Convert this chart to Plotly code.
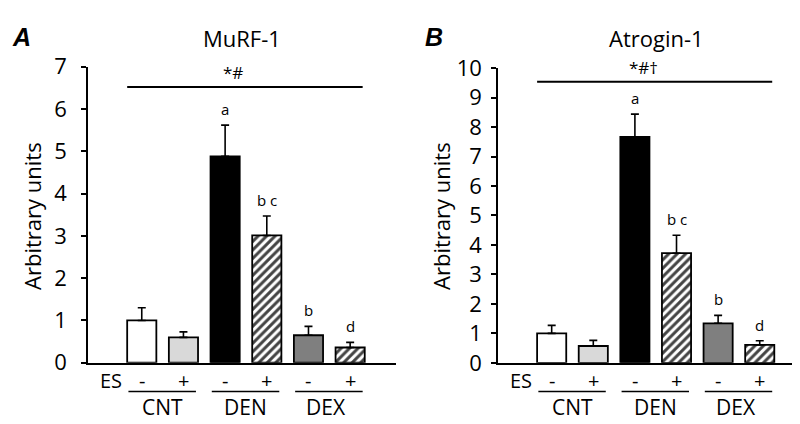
import plotly.graph_objects as go

# ---------------- data ----------------
groups = ["CNT", "DEN", "DEX"]
es_signs = ["-", "+", "-", "+", "-", "+"]
bar_positions = [0, 1, 2, 3, 4, 5]

murf_values = [1.00, 0.60, 4.88, 3.01, 0.65, 0.36]
murf_errors = [0.30, 0.13, 0.74, 0.46, 0.21, 0.12]
murf_letters = ["", "", "a", "b c", "b", "d"]
murf_sig = "*#"
murf_sig_level = 6.52

atro_values = [1.00, 0.57, 7.67, 3.72, 1.34, 0.61]
atro_errors = [0.27, 0.19, 0.77, 0.61, 0.27, 0.14]
atro_letters = ["", "", "a", "b c", "b", "d"]
atro_sig = "*#†"
atro_sig_level = 9.54

# ---------------- styles ----------------
FONT = "Open Sans, sans-serif"
fills = ["white", "#d9d9d9", "black", "white", "#7f7f7f", "white"]
patterns = ["", "", "", "/", "", "/"]
pat_fg = ["black", "black", "black", "black", "black", "#a0a0a0"]

W, H = 800, 424
def py(p):  # pixel y -> paper
    return 1 - p / H

fig = go.Figure()

panels = [
    dict(vals=murf_values, errs=murf_errors, letters=murf_letters, sig=murf_sig,
         sig_level=murf_sig_level, xa="x", ya="y", xdom=[80 / W, 388 / W],
         ydom=[py(364.5), py(46)], yrange=[0, 7], title="MuRF-1", title_x=234,
         label="A", xrange=[-1.29, 6.1], ytitle_x=24, label_x=13),
    dict(vals=atro_values, errs=atro_errors, letters=atro_letters, sig=atro_sig,
         sig_level=atro_sig_level, xa="x2", ya="y2", xdom=[490 / W, 1.0],
         ydom=[py(364.6), py(47.5)], yrange=[0, 10], title="Atrogin-1", title_x=648,
         label="B", xrange=[-1.29, 6.16], ytitle_x=433, label_x=426),
]

annotations = []
shapes = []
def txt(**kw):
    size = kw.pop("size")
    fam = kw.pop("family", FONT)
    d = dict(showarrow=False, xanchor="center", yanchor="middle",
             font=dict(family=fam, size=size, color="black"))
    d.update(kw)
    annotations.append(d)

for i, p in enumerate(panels):
    fig.add_trace(go.Bar(
        x=bar_positions, y=p["vals"], xaxis=p["xa"], yaxis=p["ya"],
        width=0.7,
        marker=dict(color=fills, line=dict(color="black", width=1.8),
                    pattern=dict(shape=patterns, fgcolor=pat_fg, bgcolor="white",
                                 fgopacity=1, size=6, solidity=0.5, fillmode="overlay")),
        error_y=dict(type="data", symmetric=False, array=p["errs"],
                     arrayminus=[0] * 6, color="black", thickness=1.6, width=4),
        showlegend=False, hoverinfo="skip"))

    # significance letters above error bars
    for xi, v, e, t in zip(bar_positions, p["vals"], p["errs"], p["letters"]):
        if t:
            txt(x=xi, y=v + e, xref=p["xa"], yref=p["ya"], text=t,
                yanchor="bottom", yshift=4, size=15)
    # overall significance line
    shapes.append(dict(type="line", xref=p["xa"], yref=p["ya"],
                       x0=-0.35, x1=5.3, y0=p["sig_level"], y1=p["sig_level"],
                       line=dict(color="black", width=2)))
    txt(x=2.2, y=p["sig_level"], xref=p["xa"], yref=p["ya"], text=p["sig"],
        yanchor="bottom", yshift=1, size=17)
    # ES row
    txt(x=-0.74, y=py(384), xref=p["xa"], yref="paper", text="ES", size=20)
    for xi, s in zip(bar_positions, es_signs):
        txt(x=xi, y=py(384), xref=p["xa"], yref="paper", text=s, size=20)
    # group lines + labels
    for g, name in enumerate(groups):
        a, b = bar_positions[2 * g], bar_positions[2 * g + 1]
        shapes.append(dict(type="line", xref=p["xa"], yref="paper",
                           x0=a - 0.32, x1=b + 0.3, y0=py(395.5), y1=py(395.5),
                           line=dict(color="black", width=1.6)))
        txt(x=(a + b) / 2 - (0.08 if g == 2 else 0), y=py(412.5),
            xref=p["xa"], yref="paper", text=name, size=21)
    # titles
    txt(x=p["title_x"] / W, y=py(15), xref="paper", yref="paper", text=p["title"], size=22)
    txt(x=p["label_x"] / W, y=py(14), xref="paper", yref="paper",
        text="<b><i>" + p["label"] + "</i></b>", size=25,
        family="Liberation Sans, Arial, sans-serif")
    txt(x=p["ytitle_x"] / W, y=py(206.5), xref="paper", yref="paper",
        text="Arbitrary units", textangle=-90, size=22)

axis_common = dict(showgrid=False, zeroline=False, showline=True, linecolor="black",
                   linewidth=1.6)
fig.update_layout(
    width=W, height=H, margin=dict(l=0, r=0, t=0, b=0),
    paper_bgcolor="white", plot_bgcolor="white",
    font=dict(family=FONT, color="black"),
    xaxis=dict(domain=panels[0]["xdom"], range=panels[0]["xrange"], showticklabels=False,
               ticks="", anchor="y", **axis_common),
    yaxis=dict(domain=panels[0]["ydom"], range=panels[0]["yrange"], dtick=1, ticks="outside",
               ticklen=5, tickwidth=1.6, tickcolor="black", anchor="x", ticklabelstandoff=10,
               tickfont=dict(family=FONT, size=22, color="black"), **axis_common),
    xaxis2=dict(domain=panels[1]["xdom"], range=panels[1]["xrange"], showticklabels=False,
                ticks="", anchor="y2", **axis_common),
    yaxis2=dict(domain=panels[1]["ydom"], range=panels[1]["yrange"], dtick=1, ticks="outside",
                ticklen=5, tickwidth=1.6, tickcolor="black", anchor="x2", ticklabelstandoff=5,
                tickfont=dict(family=FONT, size=22, color="black"), **axis_common),
    annotations=annotations, shapes=shapes,
)

fig.write_html("out.html")
